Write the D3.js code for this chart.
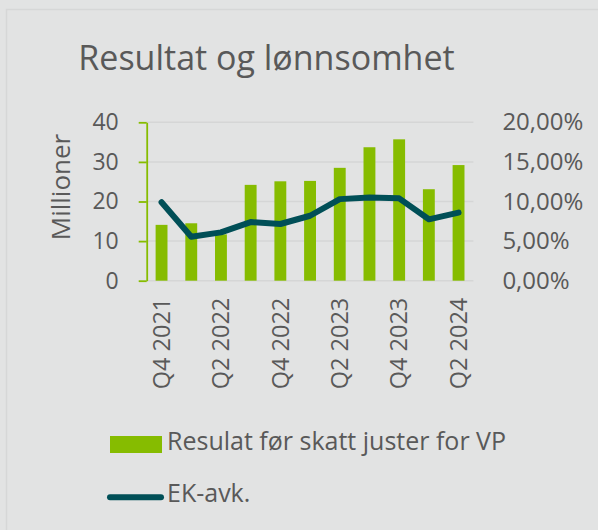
<!DOCTYPE html>
<html>
<head>
<meta charset="utf-8">
<script src="https://cdn.jsdelivr.net/npm/d3@7"></script>
<style>
  html, body { margin: 0; padding: 0; background: #e2e3e3; }
  svg { display: block; }
  text { font-family: "Open Sans", sans-serif; fill: #595959; }
</style>
</head>
<body>
<svg id="chart" width="598" height="530"></svg>
<script>
const categories = ["Q4 2021","Q1 2022","Q2 2022","Q3 2022","Q4 2022","Q1 2023","Q2 2023","Q3 2023","Q4 2023","Q1 2024","Q2 2024"];
const resultat = [14.1, 14.5, 11.7, 24.2, 25.1, 25.2, 28.5, 33.7, 35.7, 23.1, 29.2];
const ekAvk = [0.099, 0.0556, 0.061, 0.074, 0.0716, 0.082, 0.103, 0.105, 0.104, 0.0775, 0.086];
const leftTicks = [0, 10, 20, 30, 40];
const rightTicks = [0, 0.05, 0.10, 0.15, 0.20];
const seriesNames = ["Resulat før skatt juster for VP", "EK-avk."];
const title = "Resultat og lønnsomhet";
const leftAxisTitle = "Millioner";

const green = "#86bc00", teal = "#004f57", grid = "#d5d6d6", textCol = "#595959";
const svg = d3.select("#chart");

// frame
svg.append("rect").attr("x", 6.5).attr("y", 9.5).attr("width", 600).attr("height", 540)
  .attr("fill", "#e2e3e3").attr("stroke", "#d6d7d7").attr("stroke-width", 1.5);

const plot = {left: 146.7, right: 473.4, top: 122.3, bottom: 280.7};

const x = d3.scaleBand().domain(categories).range([plot.left, plot.right])
  .paddingInner(0.6).paddingOuter(0.3);
const yL = d3.scaleLinear().domain([0, 40]).range([plot.bottom, plot.top]);
const yR = d3.scaleLinear().domain([0, 0.20]).range([plot.bottom, plot.top]);

const loc = d3.formatLocale({decimal: ",", thousands: " ", grouping: [3], currency: ["", " kr"], percent: "%"});
const pct = loc.format(".2%");

// gridlines
svg.append("g").selectAll("line").data(leftTicks).join("line")
  .attr("x1", plot.left).attr("x2", plot.right)
  .attr("y1", d => yL(d)).attr("y2", d => yL(d))
  .attr("stroke", grid).attr("stroke-width", 1.5);

// bars
svg.append("g").selectAll("rect").data(resultat).join("rect")
  .attr("x", (d, i) => x(categories[i]))
  .attr("width", x.bandwidth())
  .attr("y", d => yL(d))
  .attr("height", d => yL(0) - yL(d))
  .attr("fill", green);

// line
const line = d3.line()
  .x((d, i) => x(categories[i]) + x.bandwidth() / 2)
  .y(d => yR(d));
svg.append("path").datum(ekAvk).attr("d", line)
  .attr("fill", "none").attr("stroke", teal).attr("stroke-width", 6)
  .attr("stroke-linejoin", "round").attr("stroke-linecap", "round");

// left axis
const axL = svg.append("g").attr("transform", `translate(${plot.left},0)`)
  .call(d3.axisLeft(yL).tickValues(leftTicks).tickSize(8).tickSizeOuter(0).tickPadding(20));
axL.select(".domain").attr("stroke", green).attr("stroke-width", 1.8);
axL.selectAll(".tick line").attr("stroke", green).attr("stroke-width", 1.8);
axL.selectAll(".tick text").attr("font-size", 23).style("fill", textCol)
  .style("font-family", '"Open Sans", sans-serif');

// right axis
const axR = svg.append("g").attr("transform", `translate(${plot.right},0)`)
  .call(d3.axisRight(yR).tickValues(rightTicks).tickSize(0).tickPadding(29).tickFormat(pct));
axR.select(".domain").remove();
axR.selectAll(".tick text").attr("font-size", 24).style("fill", textCol)
  .style("font-family", '"Open Sans", sans-serif');

// x axis labels (every other)
const axX = svg.append("g").attr("transform", `translate(0,${plot.bottom})`)
  .call(d3.axisBottom(x).tickSize(0).tickValues(categories.filter((d, i) => i % 2 === 0)));
axX.select(".domain").remove();
axX.selectAll(".tick text")
  .attr("font-size", 23.5).style("fill", textCol).style("font-family", '"Open Sans", sans-serif')
  .attr("transform", "rotate(-90)")
  .attr("text-anchor", "end")
  .attr("x", -17).attr("y", 0).attr("dy", "0.35em");

// title
svg.append("text").attr("x", 266.5).attr("y", 70).attr("text-anchor", "middle")
  .attr("font-size", 34).text(title);

// left axis title
svg.append("text").attr("transform", "translate(70,187) rotate(-90)")
  .attr("text-anchor", "middle").attr("font-size", 26).text(leftAxisTitle);

// legend
const lg = svg.append("g");
lg.append("rect").attr("x", 110).attr("y", 436).attr("width", 52).attr("height", 17).attr("fill", green);
lg.append("text").attr("x", 167).attr("y", 449.5).attr("font-size", 25).text(seriesNames[0]);
lg.append("line").attr("x1", 110).attr("x2", 161).attr("y1", 497.3).attr("y2", 497.3)
  .attr("stroke", teal).attr("stroke-width", 6).attr("stroke-linecap", "round");
lg.append("text").attr("x", 167).attr("y", 501.7).attr("font-size", 25).text(seriesNames[1]);
</script>
</body>
</html>
